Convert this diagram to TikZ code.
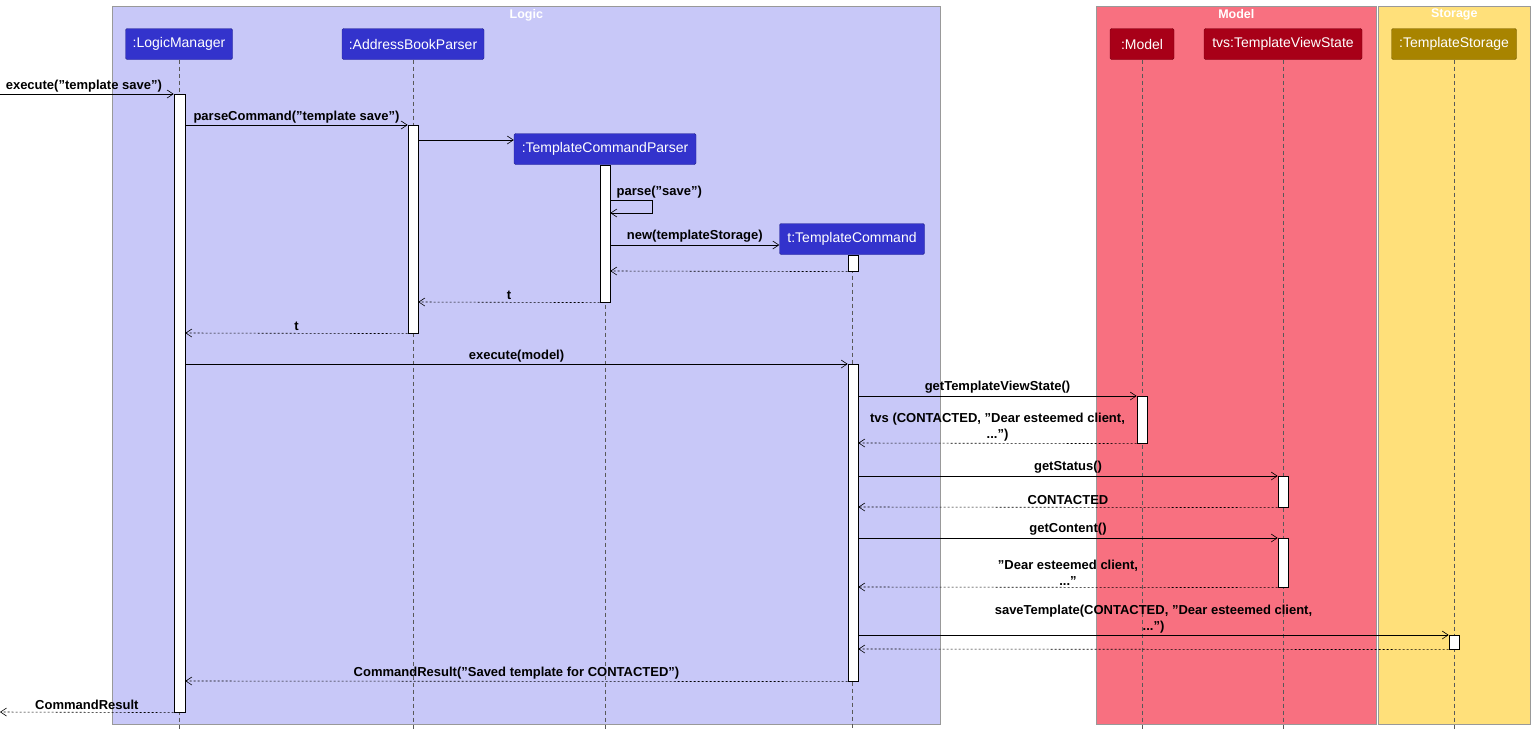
\documentclass[tikz,border=0pt]{standalone}
\usepackage{fontspec}
\setmainfont{Liberation Sans}
\usetikzlibrary{arrows.meta}
\definecolor{logicbg}{HTML}{C8C8F8}
\definecolor{modelbg}{HTML}{F87080}
\definecolor{storebg}{HTML}{FFE07A}
\definecolor{logicp}{HTML}{3333CC}
\definecolor{modelp}{HTML}{A80018}
\definecolor{storep}{HTML}{A88400}
\tikzset{
 x=1pt,y=-1pt,
 grp/.style={draw=gray!80,line width=0.6pt},
 grptitle/.style={text=white,font=\bfseries\fontsize{12.5}{14}\selectfont,anchor=north,inner sep=3pt},
 part/.style={draw=#1!70!black,fill=#1,text=white,rounded corners=1.5pt,minimum height=31pt,inner xsep=4pt,font=\fontsize{14}{16}\selectfont},
 life/.style={draw=gray!70!black,dashed,dash pattern=on 4pt off 3pt,line width=0.5pt},
 act/.style={draw=black,fill=white,line width=0.6pt},
 msg/.style={-{Straight Barb[length=6pt,width=8pt]},line width=0.6pt},
 ret/.style={msg,dash pattern=on 2pt off 2pt},
 lbl/.style={font=\bfseries\fontsize{13}{16}\selectfont,align=center,above,inner sep=2pt}
}
\begin{document}
\begin{tikzpicture}
\useasboundingbox (0,0) rectangle (1535,736);
% groups
\node[grp,fill=logicbg,minimum width=828pt,minimum height=718pt,anchor=north west,inner sep=0] (glogic) at (112,6) {};
\node[grptitle] at (glogic.north) {Logic};
\node[grp,fill=modelbg,minimum width=280pt,minimum height=718pt,anchor=north west,inner sep=0] (gmodel) at (1096,6) {};
\node[grptitle] at (gmodel.north) {Model};
\node[grp,fill=storebg,minimum width=152pt,minimum height=718pt,anchor=north west,inner sep=0] (gstore) at (1378,6) {};
\node[grptitle] at (gstore.north) {Storage};
% participants
\node[part=logicp,minimum width=107pt] (lm) at (179,44) {:LogicManager};
\node[part=logicp,minimum width=142pt] (abp) at (413,44) {:AddressBookParser};
\node[part=logicp,minimum width=182pt] (tcp) at (605,149) {:TemplateCommandParser};
\node[part=logicp,minimum width=145pt] (tc) at (852,239) {t:TemplateCommand};
\node[part=modelp,minimum width=64pt] (mo) at (1142,44) {:Model};
\node[part=modelp,minimum width=158pt] (tvs) at (1283,44) {tvs:TemplateViewState};
\node[part=storep,minimum width=125pt] (ts) at (1454,44) {:TemplateStorage};
% lifelines
\foreach \p in {lm,abp,tcp,tc,mo,tvs,ts}{\draw[life] (\p.south) -- (\p.south |- 0,730);}
% activations
\node[act,minimum width=11pt,minimum height=618pt,anchor=north,inner sep=0] (alm) at (179.5,94) {};
\node[act,minimum width=10pt,minimum height=208pt,anchor=north,inner sep=0] (aabp) at (413,125) {};
\node[act,minimum width=10pt,minimum height=137pt,anchor=north,inner sep=0] (atcp) at (605,165) {};
\node[act,minimum width=10pt,minimum height=16pt,anchor=north,inner sep=0] (atc1) at (853,255) {};
\node[act,minimum width=10pt,minimum height=317pt,anchor=north,inner sep=0] (atc2) at (853,364) {};
\node[act,minimum width=10pt,minimum height=47pt,anchor=north,inner sep=0] (amo) at (1142,396) {};
\node[act,minimum width=10pt,minimum height=31pt,anchor=north,inner sep=0] (atv1) at (1283,476) {};
\node[act,minimum width=10pt,minimum height=49pt,anchor=north,inner sep=0] (atv2) at (1283,538) {};
\node[act,minimum width=10pt,minimum height=14pt,anchor=north,inner sep=0] (ats) at (1454,635) {};
\coordinate (start) at (0,94);
\coordinate (finish) at (0,712);
% messages
\draw[msg] (start) -- node[lbl,xshift=-3pt]{execute("template save")} (alm.north west);
\draw[msg] (alm.east |- 0,125) -- node[lbl]{parseCommand("template save")} (aabp.north west);
\draw[msg] (aabp.east |- 0,140) -- (tcp.west |- 0,140);
\draw[msg] (atcp.east |- 0,200) node[lbl,anchor=south west,xshift=4pt]{parse("save")} -- ++(42,0) -- ++(0,13) -- (atcp.east |- 0,213);
\draw[msg] (atcp.east |- 0,245) -- node[lbl]{new(templateStorage)} (tc.west |- 0,245);
\draw[ret] (atc1.south west) -- (atcp.east |- 0,271);
\draw[ret] (atcp.south west) -- node[lbl]{t} (aabp.east |- 0,302);
\draw[ret] (aabp.south west) -- node[lbl]{t} (alm.east |- 0,333);
\draw[msg] (alm.east |- 0,364) -- node[lbl]{execute(model)} (atc2.north west);
\draw[msg] (atc2.east |- 0,396) -- node[lbl]{getTemplateViewState()} (amo.north west);
\draw[ret] (amo.south west) -- node[lbl]{tvs (CONTACTED, "Dear esteemed client,\\ ...")} (atc2.east |- 0,443);
\draw[msg] (atc2.east |- 0,476) -- node[lbl]{getStatus()} (atv1.north west);
\draw[ret] (atv1.south west) -- node[lbl]{CONTACTED} (atc2.east |- 0,507);
\draw[msg] (atc2.east |- 0,538) -- node[lbl]{getContent()} (atv2.north west);
\draw[ret] (atv2.south west) -- node[lbl]{"Dear esteemed client,\\ ..."} (atc2.east |- 0,587);
\draw[msg] (atc2.east |- 0,635) -- node[lbl]{saveTemplate(CONTACTED, "Dear esteemed client,\\ ...")} (ats.north west);
\draw[ret] (ats.south west) -- (atc2.east |- 0,649);
\draw[ret] (atc2.south west) -- node[lbl]{CommandResult("Saved template for CONTACTED")} (alm.east |- 0,681);
\draw[ret] (alm.south west) -- node[lbl]{CommandResult} (finish);
\end{tikzpicture}
\end{document}
